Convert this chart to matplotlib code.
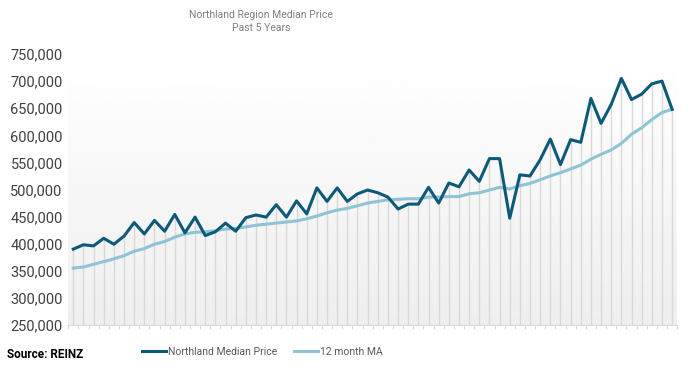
import numpy as np
import matplotlib
matplotlib.use("Agg")
import matplotlib.pyplot as plt
from matplotlib.lines import Line2D
from matplotlib.ticker import FuncFormatter

plt.rcParams['font.family'] = ['Roboto', 'DejaVu Sans']

# monthly values, past 5 years (60 months)
median_price = [
    390000, 398000, 396000, 410000, 399000, 414000, 439000, 418000, 443000, 423000,
    454000, 420000, 449000, 415000, 422000, 438000, 423000, 448000, 453000, 449000,
    472000, 449000, 479000, 455000, 503000, 478000, 503000, 478000, 492000, 499000,
    494000, 486000, 464000, 473000, 473000, 504000, 475000, 512000, 505000, 536000,
    515000, 557000, 557000, 447000, 527000, 525000, 555000, 593000, 546000, 592000,
    587000, 668000, 622000, 657000, 705000, 666000, 676000, 695000, 700000, 648000,
]
moving_avg = [
    355000, 357000, 362000, 367000, 372000, 378000, 386000, 391000, 399000, 404000,
    412000, 418000, 421000, 422000, 424000, 427000, 428000, 431000, 434000, 436000,
    438000, 440000, 442000, 446000, 451000, 457000, 462000, 465000, 470000, 475000,
    478000, 481000, 482000, 483000, 483000, 486000, 486000, 487000, 487000, 492000,
    494000, 499000, 504000, 501000, 507000, 511000, 518000, 525000, 531000, 538000,
    545000, 556000, 565000, 573000, 585000, 602000, 614000, 629000, 642000, 648000,
]
y_ticks = list(range(250000, 750001, 50000))

dark = '#0d5a78'
light = '#8fc4d5'

x = np.arange(len(median_price))

fig = plt.figure(figsize=(6.92, 3.70), dpi=100)
ax = fig.add_axes([68.2 / 692, 45 / 370, 609 / 692, 271 / 370])

# soft vertical gradient behind the plot
grad = np.linspace(1.0, 0.935, 256).reshape(-1, 1)
ax.imshow(grad, cmap='gray', vmin=0, vmax=1, aspect='auto',
          extent=(-0.5, len(x) - 0.5, 250000, 750000), zorder=0)

# drop lines from each monthly point
ax.vlines(x, 250000, median_price, color='#d9d9d9', lw=1, zorder=1)

ax.plot(x, moving_avg, color=light, lw=2.2, zorder=3, solid_joinstyle='round')
ax.plot(x, median_price, color=dark, lw=2.2, zorder=4, solid_joinstyle='round')

ax.set_xlim(-0.5, len(x) - 0.5)
ax.set_ylim(250000, 750000)
ax.set_yticks(y_ticks)
ax.yaxis.set_major_formatter(FuncFormatter(lambda v, p: f'{int(v):,}'))
ax.set_xticks(np.arange(-0.5, len(x)))
ax.set_xticklabels([])

for s in ['top', 'right', 'left']:
    ax.spines[s].set_visible(False)
ax.spines['bottom'].set_color('#d9d9d9')
ax.tick_params(axis='y', length=0, pad=4, labelsize=10.5, labelcolor='#404040')
ax.tick_params(axis='x', length=3, color='#d9d9d9')

fig.text(261 / 692, 1 - 21.5 / 370, 'Northland Region Median Price\nPast 5 Years',
         ha='center', va='center', fontsize=7.5, color='#7f7f7f', linespacing=1.45)

fig.text(7 / 692, 1 - 355 / 370, 'Source: REINZ', ha='left', va='center',
         fontsize=8.5, fontweight='bold', color='black')

handles = [Line2D([], [], color=dark, lw=2.2), Line2D([], [], color=light, lw=2.2)]
fig.legend(handles, ['Northland Median Price', '12 month MA'], ncol=2,
           loc='center', bbox_to_anchor=(262 / 692, 1 - 352 / 370), frameon=False,
           fontsize=7.5, labelcolor='#595959', handlelength=2.3, handletextpad=0.2,
           columnspacing=1.6)

fig.savefig('out.png', dpi=100)
